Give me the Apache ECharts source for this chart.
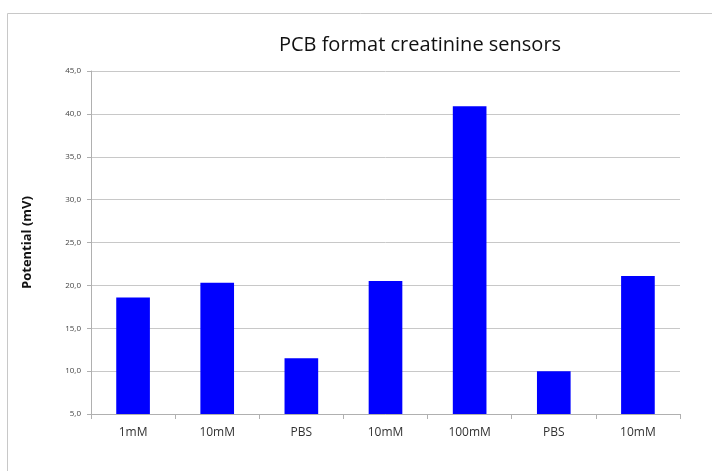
<!DOCTYPE html>
<html><head><meta charset="utf-8">
<script src="https://cdn.jsdelivr.net/npm/echarts@6/dist/echarts.min.js"></script>
<style>html,body{margin:0;padding:0;background:#fff}#c{width:712px;height:471px}</style>
</head><body><div id="c"></div>
<script>
var categories = ["1mM","10mM","PBS","10mM","100mM","PBS","10mM"];
var potential = [18.6, 20.3, 11.5, 20.5, 40.9, 10.0, 21.1];
var chartTitle = "PCB format creatinine sensors";
var yAxisName = "Potential (mV)";

var chart = echarts.init(document.getElementById('c'));
chart.setOption({
  animation:false,
  backgroundColor:'#fff',
  title:{text:chartTitle,left:415,top:30,textAlign:'center',
    textStyle:{fontFamily:'Open Sans',fontWeight:'normal',fontSize:20,color:'#111'}},
  graphic:[{type:'rect',shape:{x:7.5,y:13.5,width:720,height:480},
    style:{fill:'none',stroke:'#c8c8c8',lineWidth:1},silent:true}],
  grid:{left:91,right:32,top:71,bottom:57},
  xAxis:{type:'category',data:categories,
    axisLine:{lineStyle:{color:'#b0b0b0'}},
    axisTick:{show:true,length:5,lineStyle:{color:'#b0b0b0'}},
    axisLabel:{fontFamily:'Open Sans',fontSize:12,color:'#333',margin:13}},
  yAxis:{type:'value',min:5,max:45,interval:5,
    name:yAxisName,nameLocation:'middle',nameGap:57,
    nameTextStyle:{fontFamily:'Open Sans',fontWeight:'bold',fontSize:13,color:'#111'},
    axisLine:{show:true,lineStyle:{color:'#b0b0b0'}},
    axisTick:{show:true,length:4,lineStyle:{color:'#b0b0b0'}},
    splitLine:{lineStyle:{color:'#c8c8c8'}},
    axisLabel:{fontFamily:'Open Sans',fontSize:8,color:'#444',margin:10,
      formatter:function(v){return v.toFixed(1).replace('.',',');}}},
  series:[{type:'bar',data:potential,barWidth:'40%',
    itemStyle:{color:'#0000ff'}}]
});
</script></body></html>
